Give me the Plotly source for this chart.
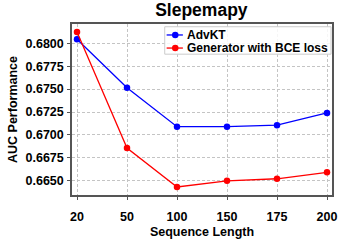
import plotly.graph_objects as go

seq_len = ["20", "50", "100", "150", "175", "200"]
advkt = [0.68043, 0.67515, 0.6709, 0.6709, 0.67107, 0.6724]
generator_bce = [0.68123, 0.66857, 0.66432, 0.6650, 0.66522, 0.66592]
y_ticks = [0.6650, 0.6675, 0.6700, 0.6725, 0.6750, 0.6775, 0.6800]
series_names = ["AdvKT", "Generator with BCE loss"]
series_colors = ["blue", "red"]

W, H = 349, 249
ML, MR, MT, MB = 64, 13, 24, 38
PW, PH = W - ML - MR, H - MT - MB

def px_x(x):
    return (x - ML) / PW

def px_y(y):
    return 1 - (y - MT) / PH

fig = go.Figure()
for name, vals, col in zip(series_names, [advkt, generator_bce], series_colors):
    fig.add_trace(go.Scatter(x=seq_len, y=vals, mode="lines+markers", name=name,
                             line=dict(color=col, width=1.3), marker=dict(color=col, size=6.5),
                             showlegend=False))

font_family = "Liberation Sans, Arial, sans-serif"

# custom legend (box, sample lines, markers, labels)
shapes = [dict(type="rect", xref="paper", yref="paper", x0=px_x(161), x1=px_x(335),
               y0=px_y(57), y1=px_y(27), line=dict(color="#cccccc", width=1),
               fillcolor="rgba(255,255,255,0.85)", layer="above")]
annotations = []
for i, (name, col) in enumerate(zip(series_names, series_colors)):
    yy = px_y(36 + i * 14.3)
    shapes.append(dict(type="line", xref="paper", yref="paper", x0=px_x(163), x1=px_x(180),
                       y0=yy, y1=yy, line=dict(color=col, width=1.3), layer="above"))
    shapes.append(dict(type="circle", xref="paper", yref="paper", xsizemode="pixel", ysizemode="pixel",
                       xanchor=px_x(172), yanchor=yy, x0=-3.25, x1=3.25, y0=-3.25, y1=3.25,
                       fillcolor=col, line=dict(color=col, width=0), layer="above"))
    annotations.append(dict(xref="paper", yref="paper", x=px_x(182.5), y=yy, xanchor="left",
                            yanchor="middle", showarrow=False, text=f"<b>{name}</b>",
                            font=dict(size=12, family=font_family, color="black")))

axis_style = dict(showgrid=True, gridcolor="#c4c4c4", griddash="3px,2px", gridwidth=0.8,
                  showline=True, linecolor="#555555", linewidth=1.5, mirror=True,
                  ticks="outside", ticklen=3, tickwidth=1, tickcolor="#555555",
                  tickfont=dict(size=12.5, family=font_family, weight="bold"))
fig.update_layout(
    width=W, height=H,
    margin=dict(l=ML, r=MR, t=MT, b=MB),
    paper_bgcolor="white", plot_bgcolor="white",
    font=dict(family=font_family, color="black"),
    title=dict(text="<b>Slepemapy</b>", x=0.577, xanchor="center", y=0.985, yanchor="top",
               font=dict(size=17.5, family=font_family)),
    showlegend=False,
    shapes=shapes,
    annotations=annotations,
    xaxis=dict(type="category", range=[-0.1, 5.1], ticklabelstandoff=6,
               title=dict(text="<b>Sequence Length</b>", font=dict(size=12.5), standoff=4), **axis_style),
    yaxis=dict(range=[0.66345, 0.6821], tickvals=y_ticks,
               ticktext=[f"{v:.4f}" for v in y_ticks], ticklabelstandoff=1,
               title=dict(text="<b>AUC Performance</b>", font=dict(size=12.5), standoff=5), **axis_style),
)

fig.write_html("out.html", config={"displayModeBar": False},
               post_script="document.body.style.margin='0';document.body.style.overflow='hidden';")
